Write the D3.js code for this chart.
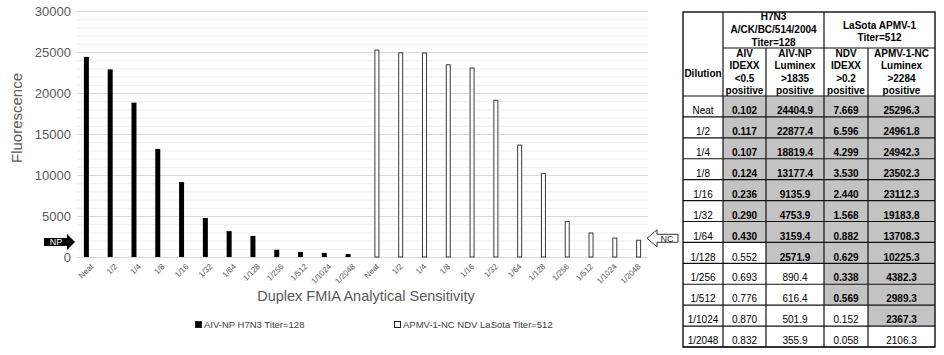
<!DOCTYPE html>
<html>
<head>
<meta charset="utf-8">
<script src="https://cdn.jsdelivr.net/npm/d3@7"></script>
<style>
  html, body { margin: 0; padding: 0; background: #fff; }
  svg { display: block; }
</style>
</head>
<body>
<svg id="chart" width="944" height="355"></svg>
<script>
// ---------------- DATA ----------------
const dilutions = ["Neat","1/2","1/4","1/8","1/16","1/32","1/64","1/128","1/256","1/512","1/1024","1/2048"];
const npLuminex = [24404.9, 22877.4, 18819.4, 13177.4, 9135.9, 4753.9, 3159.4, 2571.9, 890.4, 616.4, 501.9, 355.9];
const ncLuminex = [25296.3, 24961.8, 24942.3, 23502.3, 23112.3, 19183.8, 13708.3, 10225.3, 4382.3, 2989.3, 2367.3, 2106.3];
const aivIdexx = [0.102, 0.117, 0.107, 0.124, 0.236, 0.290, 0.430, 0.552, 0.693, 0.776, 0.870, 0.832];
const ndvIdexx = [7.669, 6.596, 4.299, 3.530, 2.440, 1.568, 0.882, 0.629, 0.338, 0.569, 0.152, 0.058];
const yTicks = [0, 5000, 10000, 15000, 20000, 25000, 30000];
const npCutoff = 1835;
const ncCutoff = 2284;
const seriesNames = ["AIV-NP H7N3 Titer=128", "APMV-1-NC NDV LaSota Titer=512"];
const xTitle = "Duplex FMIA Analytical Sensitivity";
const yTitle = "Fluorescence";
const header1 = [
  {lines: ["H7N3", "A/CK/BC/514/2004", "Titer=128"]},
  {lines: ["LaSota  APMV-1", "Titer=512"]}
];
const header2 = [
  ["AIV", "IDEXX", "<0.5", "positive"],
  ["AIV-NP", "Luminex", ">1835", "positive"],
  ["NDV", "IDEXX", ">0.2", "positive"],
  ["APMV-1-NC", "Luminex", ">2284", "positive"]
];

// ---------------- CHART ----------------
const svg = d3.select("#chart");
const FONT = "'Liberation Sans', Arial, sans-serif";
const grey = "#595959";

const plotL = 77, plotR = 648, plotT = 11, plotB = 257;
const y = d3.scaleLinear().domain([0, 30000]).range([plotB, plotT]);
const cats = d3.range(dilutions.length * 2);
const x = d3.scaleBand().domain(cats).range([plotL, plotR]).padding(0);
const barW = 5;

// minor gridlines
svg.append("g").selectAll("line")
  .data(d3.range(1000, 30001, 1000).filter(v => v % 5000 !== 0))
  .join("line")
  .attr("x1", plotL).attr("x2", plotR)
  .attr("y1", d => y(d) + 0.5).attr("y2", d => y(d) + 0.5)
  .attr("stroke", "#eeeeee").attr("stroke-width", 1);
// major gridlines
svg.append("g").selectAll("line")
  .data(yTicks)
  .join("line")
  .attr("x1", plotL).attr("x2", plotR)
  .attr("y1", d => y(d) + 0.5).attr("y2", d => y(d) + 0.5)
  .attr("stroke", "#d9d9d9").attr("stroke-width", 1.2);

// y axis
const yAxis = svg.append("g")
  .attr("transform", `translate(${plotL},0)`)
  .call(d3.axisLeft(y).tickValues(yTicks).tickSize(0).tickPadding(6).tickFormat(d3.format("d")));
yAxis.select(".domain").remove();
yAxis.selectAll("text").attr("font-family", FONT).attr("font-size", 13).attr("fill", grey);

// x axis
const xAxis = svg.append("g")
  .attr("transform", `translate(0,${plotB})`)
  .call(d3.axisBottom(x).tickSize(0).tickFormat(i => dilutions[i % dilutions.length]));
xAxis.select(".domain").remove();
xAxis.selectAll("text")
  .attr("font-family", FONT).attr("font-size", 8).attr("fill", grey)
  .attr("x", 0).attr("y", 0).attr("dy", "0.35em")
  .attr("text-anchor", "end")
  .attr("transform", "translate(3,8) rotate(-45)");

// bars: series 1 (black) in first 12 categories, series 2 (white) in last 12
const npData = npLuminex.map((v, i) => ({i, v}));
const ncData = ncLuminex.map((v, i) => ({i: i + dilutions.length, v}));
svg.append("g").selectAll("rect")
  .data(npData).join("rect")
  .attr("x", d => x(d.i) + x.bandwidth() / 2 - barW)
  .attr("width", barW)
  .attr("y", d => y(d.v))
  .attr("height", d => y(0) - y(d.v))
  .attr("fill", "#000");
svg.append("g").selectAll("rect")
  .data(ncData).join("rect")
  .attr("x", d => x(d.i) + x.bandwidth() / 2 + 0.5)
  .attr("width", barW - 1)
  .attr("y", d => y(d.v) + 0.5)
  .attr("height", d => y(0) - y(d.v) - 0.5)
  .attr("fill", "#fff").attr("stroke", "#3a3a3a").attr("stroke-width", 1);

// NP cutoff arrow (left)
{
  const cy = y(npCutoff);
  const x0 = 44, xh = 67, xt = 75;
  svg.append("path")
    .attr("d", `M${x0},${cy - 4}L${xh},${cy - 4}L${xh},${cy - 8}L${xt},${cy}L${xh},${cy + 8}L${xh},${cy + 4}L${x0},${cy + 4}Z`)
    .attr("fill", "#000");
  svg.append("text").attr("x", 56).attr("y", cy + 3.5)
    .attr("text-anchor", "middle").attr("font-family", FONT).attr("font-size", 9)
    .attr("fill", "#fff").text("NP");
}
// NC cutoff arrow (right)
{
  const cy = y(ncCutoff);
  const xt = 647, xh = 657, x1 = 678;
  svg.append("path")
    .attr("d", `M${xt},${cy}L${xh},${cy - 8.5}L${xh},${cy - 4}L${x1},${cy - 4}L${x1},${cy + 4}L${xh},${cy + 4}L${xh},${cy + 8.5}Z`)
    .attr("fill", "#fff").attr("stroke", "#333").attr("stroke-width", 1);
  svg.append("text").attr("x", 667).attr("y", cy + 3.5)
    .attr("text-anchor", "middle").attr("font-family", FONT).attr("font-size", 9)
    .attr("fill", "#333").text("NC");
}

// axis titles
svg.append("text")
  .attr("transform", `translate(22,118) rotate(-90)`)
  .attr("text-anchor", "middle").attr("font-family", FONT).attr("font-size", 15)
  .attr("fill", grey).text(yTitle);
svg.append("text")
  .attr("x", 366).attr("y", 301)
  .attr("text-anchor", "middle").attr("font-family", FONT).attr("font-size", 14.5)
  .attr("fill", grey).text(xTitle);

// legend
const legend = [
  {x: 195, fill: "#000", name: seriesNames[0]},
  {x: 394, fill: "#fff", name: seriesNames[1]}
];
const lg = svg.append("g").selectAll("g").data(legend).join("g");
lg.append("rect").attr("x", d => d.x + 0.5).attr("y", 321.5).attr("width", 6).attr("height", 6)
  .attr("fill", d => d.fill).attr("stroke", "#222").attr("stroke-width", 1);
lg.append("text").attr("x", d => d.x + 9).attr("y", 328)
  .attr("font-family", FONT).attr("font-size", 9.5).attr("fill", "#404040")
  .text(d => d.name);

// ---------------- TABLE ----------------
const colX = [683, 723, 766, 824, 868, 935];
const tTop = 12, h1B = 48, h2B = 96, tBot = 347;
const rowH = (tBot - h2B) / dilutions.length;
const tg = svg.append("g").attr("font-family", FONT).attr("font-size", 10).attr("fill", "#000");
const colC = i => (colX[i] + colX[i + 1]) / 2;

const tableCols = [
  {vals: aivIdexx, fmt: d3.format(".3f"), pos: v => v < 0.5},
  {vals: npLuminex, fmt: d3.format(".1f"), pos: v => v > npCutoff},
  {vals: ndvIdexx, fmt: d3.format(".3f"), pos: v => v > 0.2},
  {vals: ncLuminex, fmt: d3.format(".1f"), pos: v => v > ncCutoff}
];

// shading
tableCols.forEach((c, ci) => {
  tg.append("g").selectAll("rect")
    .data(c.vals.map((v, ri) => ({v, ri})).filter(d => c.pos(d.v)))
    .join("rect")
    .attr("x", colX[ci + 1]).attr("width", colX[ci + 2] - colX[ci + 1])
    .attr("y", d => h2B + d.ri * rowH).attr("height", rowH)
    .attr("fill", "#c3c3c3");
});

// values
const rowBase = ri => h2B + (ri + 1) * rowH - 2.8;
tableCols.forEach((c, ci) => {
  tg.append("g").selectAll("text")
    .data(c.vals.map((v, ri) => ({v, ri})))
    .join("text")
    .attr("x", colC(ci + 1))
    .attr("y", d => rowBase(d.ri))
    .attr("text-anchor", "middle")
    .attr("font-weight", d => c.pos(d.v) ? "bold" : "normal")
    .text(d => c.fmt(d.v));
});
// dilution column
tg.append("g").selectAll("text")
  .data(dilutions).join("text")
  .attr("x", colC(0))
  .attr("y", (d, i) => rowBase(i))
  .attr("text-anchor", "middle")
  .text(d => d);
tg.append("text").attr("x", colC(0)).attr("y", 76.5)
  .attr("text-anchor", "middle").attr("font-weight", "bold").text("Dilution");

// header row 1
header1.forEach((h, hi) => {
  const cx = (colX[1 + hi * 2] + colX[3 + hi * 2]) / 2;
  const base = hi === 0 ? 20 : 28.5;
  h.lines.forEach((t, li) => {
    tg.append("text").attr("x", cx).attr("y", base + li * 12.8)
      .attr("text-anchor", "middle").attr("font-weight", "bold").text(t);
  });
});
// header row 2
header2.forEach((lines, ci) => {
  lines.forEach((t, li) => {
    tg.append("text").attr("x", colC(ci + 1)).attr("y", 57 + li * 12.3)
      .attr("text-anchor", "middle").attr("font-weight", "bold").text(t);
  });
});

// borders
const bs = "#111", bw = 1.2;
const hl = (x1, x2, yy) => tg.append("line").attr("x1", x1).attr("x2", x2).attr("y1", yy).attr("y2", yy).attr("stroke", bs).attr("stroke-width", bw);
const vl = (xx, y1, y2) => tg.append("line").attr("x1", xx).attr("x2", xx).attr("y1", y1).attr("y2", y2).attr("stroke", bs).attr("stroke-width", bw);
hl(colX[1], colX[5], h1B);
hl(colX[0], colX[5], h2B);
dilutions.forEach((d, i) => hl(colX[0], colX[5], h2B + (i + 1) * rowH));
vl(colX[1], tTop, tBot);
vl(colX[2], h1B, tBot);
vl(colX[3], tTop, tBot);
vl(colX[4], h1B, tBot);
tg.append("rect").attr("x", colX[0]).attr("y", tTop)
  .attr("width", colX[5] - colX[0]).attr("height", tBot - tTop)
  .attr("fill", "none").attr("stroke", bs).attr("stroke-width", 1.4);
</script>
</body>
</html>
